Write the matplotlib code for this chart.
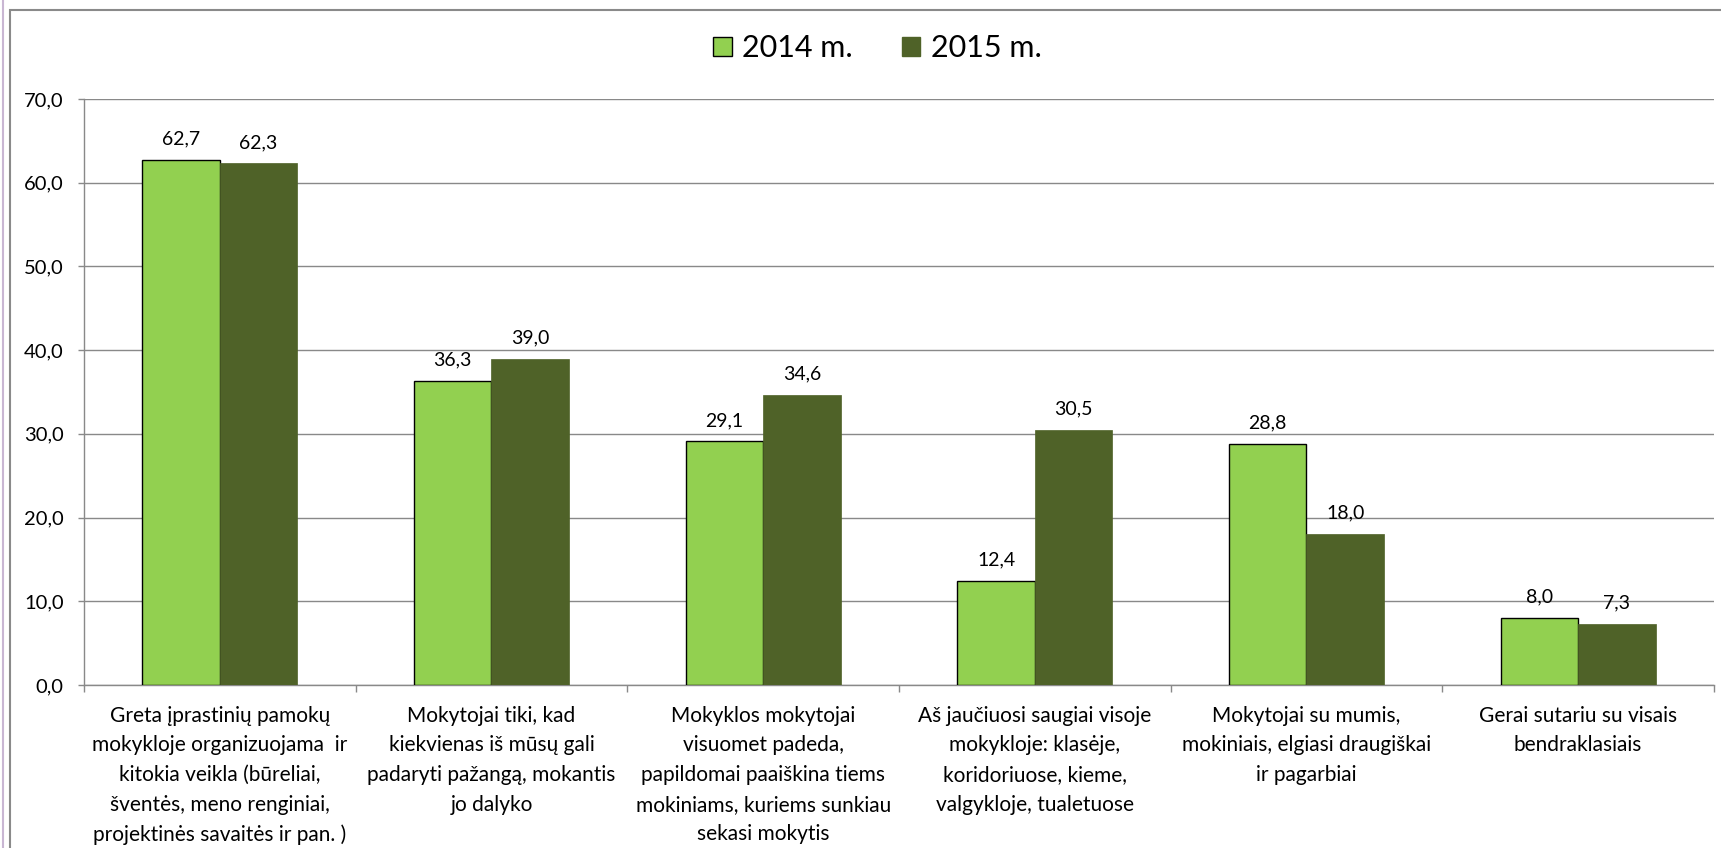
import matplotlib
matplotlib.use("Agg")
import matplotlib.pyplot as plt
from matplotlib.patches import Patch, Rectangle
from matplotlib.lines import Line2D
import numpy as np

categories = [
    "Greta įprastinių pamokų\nmokykloje organizuojama  ir\nkitokia veikla (būreliai,\nšventės, meno renginiai,\nprojektinės savaitės ir pan. )",
    "Mokytojai tiki, kad\nkiekvienas iš mūsų gali\npadaryti pažangą, mokantis\njo dalyko",
    "Mokyklos mokytojai\nvisuomet padeda,\npapildomai paaiškina tiems\nmokiniams, kuriems sunkiau\nsekasi mokytis",
    "Aš jaučiuosi saugiai visoje\nmokykloje: klasėje,\nkoridoriuose, kieme,\nvalgykloje, tualetuose",
    "Mokytojai su mumis,\nmokiniais, elgiasi draugiškai\nir pagarbiai",
    "Gerai sutariu su visais\nbendraklasiais",
]
series_names = ["2014 m.", "2015 m."]
values_2014 = [62.7, 36.3, 29.1, 12.4, 28.8, 8.0]
values_2015 = [62.3, 39.0, 34.6, 30.5, 18.0, 7.3]
y_ticks = [0, 10, 20, 30, 40, 50, 60, 70]

plt.rcParams['font.family'] = ['Lato', 'DejaVu Sans']

W, H = 1721, 848
fig = plt.figure(figsize=(W / 100, H / 100), dpi=100)
fig.patch.set_facecolor('white')

ax = fig.add_axes([84 / W, 1 - 685 / H, (1714 - 84) / W, (685 - 99) / H])

c14 = '#92D050'
c15 = '#4F6228'
grid_c = '#898989'

x = np.arange(len(categories))
bw = 0.285
b1 = ax.bar(x - bw / 2, values_2014, bw, color=c14, edgecolor='black', linewidth=1.0, zorder=3)
b2 = ax.bar(x + bw / 2, values_2015, bw, color=c15, edgecolor=c15, linewidth=0.5, zorder=3)

for bars, vals in ((b1, values_2014), (b2, values_2015)):
    for r, v in zip(bars, vals):
        ax.annotate(f"{v:.1f}".replace('.', ','),
                    (r.get_x() + r.get_width() / 2, r.get_height()),
                    xytext=(0, 9), textcoords='offset points',
                    ha='center', va='bottom', fontsize=14, color='black', zorder=4)

ax.set_xlim(-0.5, len(categories) - 0.5)
ax.set_ylim(0, 70)
ax.set_yticks(y_ticks)
ax.set_yticklabels([f"{t:.1f}".replace('.', ',') for t in y_ticks], fontsize=14.5)
ax.yaxis.grid(True, color=grid_c, linewidth=1.0, zorder=0)
ax.set_axisbelow(True)

ax.set_xticks(x)
ax.set_xticklabels(categories, fontsize=15)
for lab in ax.get_xticklabels():
    lab.set_linespacing(1.6)
ax.set_xticks(np.arange(len(categories) + 1) - 0.5, minor=True)
ax.tick_params(axis='x', which='major', length=0, pad=15)
ax.tick_params(axis='x', which='minor', length=5, color=grid_c, width=1.0)
ax.tick_params(axis='y', length=4.5, color=grid_c, width=1.0, pad=10)

for s in ['top', 'right']:
    ax.spines[s].set_visible(False)
for s in ['left', 'bottom']:
    ax.spines[s].set_color(grid_c)
    ax.spines[s].set_linewidth(1.0)

handles = [Patch(facecolor=c14, edgecolor='black', linewidth=1.0),
           Patch(facecolor=c15, edgecolor=c15)]
fig.legend(handles, series_names, loc='center', bbox_to_anchor=(0.510, 1 - 48 / H),
           ncol=2, frameon=False, fontsize=22, handlelength=0.6, handleheight=0.6,
           handletextpad=0.35, columnspacing=1.6)

# outer chart frame
fig.add_artist(Rectangle((10 / W, -0.05), 1.1, 1 - 10 / H + 0.05, transform=fig.transFigure,
                         fill=False, edgecolor='#8a8a8a', linewidth=1.5))
fig.add_artist(Line2D([2.5 / W, 2.5 / W], [0, 1], transform=fig.transFigure,
                      color='#c9b6d3', linewidth=1.5))

fig.savefig('out.png', dpi=100)
